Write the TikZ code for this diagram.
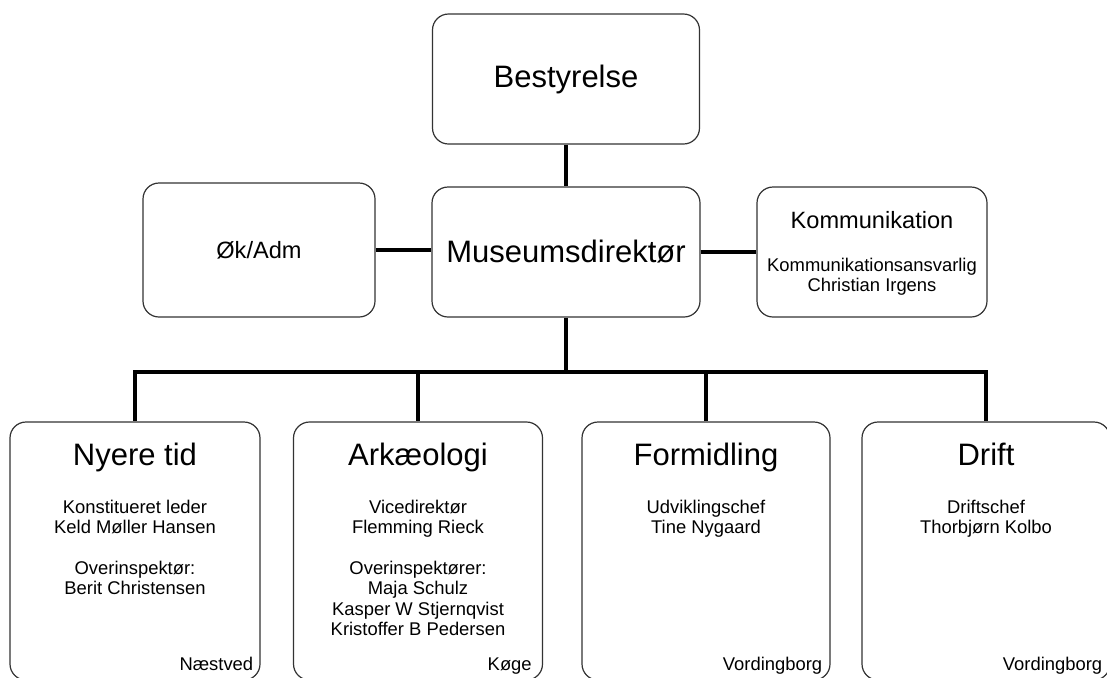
\documentclass[tikz,border=0pt]{standalone}
\usepackage{fontspec}
\setmainfont{Liberation Sans}
\usetikzlibrary{positioning}
\tikzset{
	unit box/.style={
		draw=black!80,
		line width=0.6pt,
		rounded corners=8pt,
		fill=white,
		align=center},
	link/.style={
		draw,
		line width=1.7pt},
	head/.style={font=\fontsize{15.5}{18}\selectfont, inner sep=0pt},
	sub head/.style={font=\fontsize{11.8}{14}\selectfont, inner sep=0pt},
	staff/.style={font=\fontsize{9.2}{10.2}\selectfont, align=center, inner sep=0pt},
	site/.style={font=\fontsize{9.2}{10.2}\selectfont, inner sep=0pt, anchor=base east}
}

\begin{document}
\begin{tikzpicture}[x=0.5pt,y=-0.5pt]
	\path[use as bounding box, clip] (0,0) rectangle (1107,677);
	% ledelse
	\node[unit box, head, minimum width=133.5pt, minimum height=65pt] (best) at (566,79) {Bestyrelse};
	\node[unit box, head, minimum width=134pt, minimum height=65pt] (mus) at (566,252) {Museumsdirektør};
	\node[unit box, sub head, minimum width=116pt, minimum height=67pt] (ok) at (259,250) {Øk/Adm};
	\node[unit box, minimum width=115pt, minimum height=65pt] (komm) at (872,252) {};
	\node[sub head, below=12.5pt of komm.north] (komm-head) {Kommunikation};
	\node[staff, below=35.5pt of komm.north] (komm-staff) {Kommunikationsansvarlig\\Christian Irgens};
	% afdelinger
	\node[unit box, minimum width=125pt, minimum height=129pt] (nyt) at (135,551) {};
	\node[unit box, minimum width=124.5pt, minimum height=129pt] (ark) at (418,551) {};
	\node[unit box, minimum width=124pt, minimum height=129pt] (form) at (706,551) {};
	\node[unit box, minimum width=124pt, minimum height=129pt] (drift) at (986,551) {};
	\node[head, below=10.5pt of nyt.north] (nyt-head) {Nyere tid};
	\node[head, below=10.5pt of ark.north] (ark-head) {Arkæologi};
	\node[head, below=10.5pt of form.north] (form-head) {Formidling};
	\node[head, below=10.5pt of drift.north] (drift-head) {Drift};
	\node[staff, below=39pt of nyt.north] (nyt-staff) {Konstitueret leder\\Keld Møller Hansen\\[10.2pt]
		Overinspektør:\\Berit Christensen};
	\node[staff, below=39pt of ark.north] (ark-staff) {Vicedirektør\\Flemming Rieck\\[10.2pt]
		Overinspektører:\\Maja Schulz\\Kasper W Stjernqvist\\Kristoffer B Pedersen};
	\node[staff, below=39pt of form.north] (form-staff) {Udviklingschef\\Tine Nygaard};
	\node[staff, below=39pt of drift.north] (drift-staff) {Driftschef\\Thorbjørn Kolbo};
	\node[site] (nyt-site) at ([xshift=-3.5pt,yshift=5pt]nyt.south east) {Næstved};
	\node[site] (ark-site) at ([xshift=-5.5pt,yshift=5pt]ark.south east) {Køge};
	\node[site] (form-site) at ([xshift=-4pt,yshift=5pt]form.south east) {Vordingborg};
	\node[site] (drift-site) at ([xshift=-4pt,yshift=5pt]drift.south east) {Vordingborg};
	% forbindelser
	\draw[link] (best) -- (mus);
	\draw[link] (ok) -- (ok -| mus.west);
	\draw[link] (mus) -- (komm);
	\coordinate (bus) at (566,372);
	\draw[link] (mus) -- (bus);
	\draw[link] (bus) -| (nyt.north);
	\draw[link] (bus) -| (ark.north);
	\draw[link] (bus) -| (form.north);
	\draw[link] (bus) -| (drift.north);
\end{tikzpicture}
\end{document}
